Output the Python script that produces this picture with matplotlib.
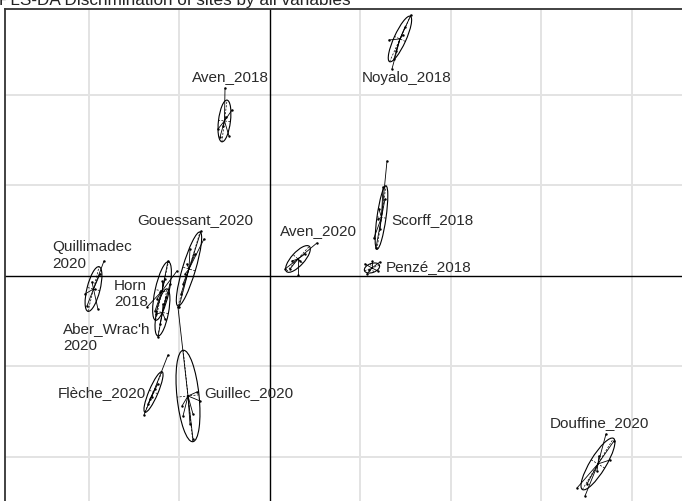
import numpy as np
import matplotlib
matplotlib.use("Agg")
import matplotlib.pyplot as plt
from matplotlib.patches import Ellipse

plt.rcParams['font.family'] = ['Liberation Sans', 'DejaVu Sans']

title = "PLS-DA Discrimination of sites by all variables"

# Site scores on the two first components (one pair per sample)
pts_noyalo_2018 = [(1.558, 2.884), (1.348, 2.287), (1.315, 2.608), (1.492, 2.751),
                   (1.392, 2.486), (1.470, 2.663), (1.370, 2.398)]
pts_aven_2018 = [(-0.497, 2.077), (-0.420, 1.834), (-0.575, 1.624), (-0.453, 1.547),
                 (-0.552, 1.536), (-0.486, 1.757), (-0.519, 1.657)]
pts_scorff_2018 = [(1.293, 1.271), (1.171, 0.309), (1.149, 0.420), (1.193, 0.630),
                   (1.215, 0.519), (1.271, 0.851), (1.249, 0.983), (1.204, 0.740)]
pts_aven_2020 = [(0.519, 0.365), (0.166, 0.077), (0.309, 0.011), (0.243, 0.166),
                 (0.387, 0.243), (0.331, 0.166), (0.221, 0.077)]
pts_penze_2018 = [(1.050, 0.133), (1.215, 0.155), (1.072, 0.022), (1.193, 0.055),
                  (1.127, 0.166), (1.094, 0.066)]
pts_quillimadec_2020 = [(-1.834, 0.166), (-2.044, -0.199), (-1.901, -0.365), (-1.967, -0.066),
                        (-1.934, -0.144), (-2.022, -0.331), (-1.878, 0.022)]
pts_horn_2018 = [(-1.127, 0.166), (-1.028, 0.055), (-1.359, -0.343), (-1.249, -0.254),
                 (-1.193, -0.055), (-1.160, -0.033), (-1.271, -0.387), (-1.215, -0.177)]
pts_aber_wrach_2020 = [(-1.105, -0.088), (-1.238, -0.674), (-1.182, -0.309), (-1.160, -0.475),
                       (-1.215, -0.530), (-1.149, -0.232), (-1.260, -0.420)]
pts_gouessant_2020 = [(-0.762, 0.497), (-0.729, 0.409), (-0.884, 0.298), (-0.939, 0.022),
                      (-1.006, -0.343), (-0.983, -0.199), (-0.829, 0.243), (-0.917, 0.133),
                      (-0.961, -0.088)]
pts_guillec_2020 = [(-1.017, -0.343), (-0.961, -1.547), (-0.807, -1.282), (-0.773, -1.381),
                    (-0.851, -1.525), (-0.972, -1.436), (-0.851, -1.801), (-0.884, -1.635)]
pts_fleche_2020 = [(-1.127, -0.873), (-1.392, -1.536), (-1.326, -1.359), (-1.271, -1.249),
                   (-1.238, -1.193), (-1.348, -1.414), (-1.304, -1.337)]
pts_douffine_2020 = [(3.713, -1.746), (3.392, -2.343), (3.481, -2.431), (3.757, -2.033),
                     (3.613, -2.155), (3.635, -1.989), (3.503, -2.298), (3.801, -1.823)]

site_labels = ["Noyalo_2018", "Aven_2018", "Scorff_2018", "Aven_2020", "Penzé_2018",
               "Quillimadec\n2020", "Horn\n2018", "Aber_Wrac'h\n2020", "Gouessant_2020",
               "Guillec_2020", "Flèche_2020", "Douffine_2020"]
site_points = [pts_noyalo_2018, pts_aven_2018, pts_scorff_2018, pts_aven_2020, pts_penze_2018,
               pts_quillimadec_2020, pts_horn_2018, pts_aber_wrach_2020, pts_gouessant_2020,
               pts_guillec_2020, pts_fleche_2020, pts_douffine_2020]

# Class gravity centres and inertia ellipses (semi-axes, orientation in degrees)
centre_x = [1.436, -0.503, 1.232, 0.309, 1.127, -1.950, -1.193, -1.188, -0.895, -0.906, -1.287, 3.624]
centre_y = [2.619, 1.713, 0.646, 0.188, 0.088, -0.144, -0.166, -0.403, 0.077, -1.326, -1.282, -2.077]
ell_major = [0.276, 0.232, 0.354, 0.188, 0.088, 0.254, 0.331, 0.265, 0.427, 0.508, 0.243, 0.331]
ell_minor = [0.066, 0.066, 0.050, 0.072, 0.050, 0.072, 0.077, 0.066, 0.072, 0.122, 0.050, 0.088]
ell_angle = [65.5, 83.0, 82.0, 48.0, 20.0, 76.0, 77.6, 79.0, 73.4, 96.0, 67.0, 58.7]

# Label anchors
label_x = [1.514, -0.442, 1.801, 0.535, 1.282, -2.409, -1.724, -2.287, -0.829, -0.238, -1.861, 3.635]
label_y = [2.200, 2.210, 0.630, 0.508, 0.114, 0.238, -0.188, -0.668, 0.630, -1.282, -1.282, -1.613]
label_ha = ["center", "center", "center", "center", "left", "left", "left", "left", "center",
            "center", "center", "center"]

grid_step = 1.0

W, H = 682, 502
fig = plt.figure(figsize=(W / 100, H / 100), dpi=100)

px_per_unit = 90.5
x0_px, y0_px = 5, 10                     # top-left corner of the frame
xmin, xmax = -2.928, 5.2
ymin, ymax = -3.2, 2.950
ax_w = (xmax - xmin) * px_per_unit / W
ax_h = (ymax - ymin) * px_per_unit / H
ax = fig.add_axes([x0_px / W, 1 - y0_px / H - ax_h, ax_w, ax_h])
ax.set_xlim(xmin, xmax)
ax.set_ylim(ymin, ymax)
ax.set_aspect('equal', adjustable='box')
ax.set_xticks([])
ax.set_yticks([])
for s in ax.spines.values():
    s.set_color('#333333')
    s.set_linewidth(1.3)

# background grid and origin axes
for gx in np.arange(-3, 6) * grid_step:
    if gx != 0:
        ax.axvline(gx, color='#e3e3e3', lw=1.4, zorder=0)
for gy in np.arange(-3, 4) * grid_step:
    if gy != 0:
        ax.axhline(gy, color='#e3e3e3', lw=1.4, zorder=0)
ax.axvline(0, color='black', lw=1.0, zorder=1)
ax.axhline(0, color='black', lw=1.0, zorder=1)

for i, pts in enumerate(site_points):
    cx, cy = centre_x[i], centre_y[i]
    arr = np.asarray(pts)
    # stars
    for px, py in arr:
        ax.plot([cx, px], [cy, py], color='black', lw=0.6, zorder=3)
    ax.scatter(arr[:, 0], arr[:, 1], s=3, color='black', zorder=4, linewidths=0)
    # ellipse with its axes
    a, b, ang = ell_major[i], ell_minor[i], ell_angle[i]
    ax.add_patch(Ellipse((cx, cy), 2 * a, 2 * b, angle=ang, fill=False,
                         edgecolor='black', lw=0.8, zorder=3))
    t = np.deg2rad(ang)
    ax.plot([cx - a * np.cos(t), cx + a * np.cos(t)],
            [cy - a * np.sin(t), cy + a * np.sin(t)], color='black', lw=0.5,
            ls=(0, (3, 2)), zorder=3)
    ax.plot([cx + b * np.sin(t), cx - b * np.sin(t)],
            [cy - b * np.cos(t), cy + b * np.cos(t)], color='black', lw=0.5,
            ls=(0, (3, 2)), zorder=3)
    ax.text(label_x[i], label_y[i], site_labels[i], ha=label_ha[i], va='center',
            multialignment='left', fontsize=11, color='#2a2a2a', linespacing=1.2,
            zorder=5)

fig.text(-1 / W, 1 - 4.5 / H, title, ha='left', va='baseline', fontsize=12.3,
         color='#222222')

fig.savefig('out.png', dpi=100)
